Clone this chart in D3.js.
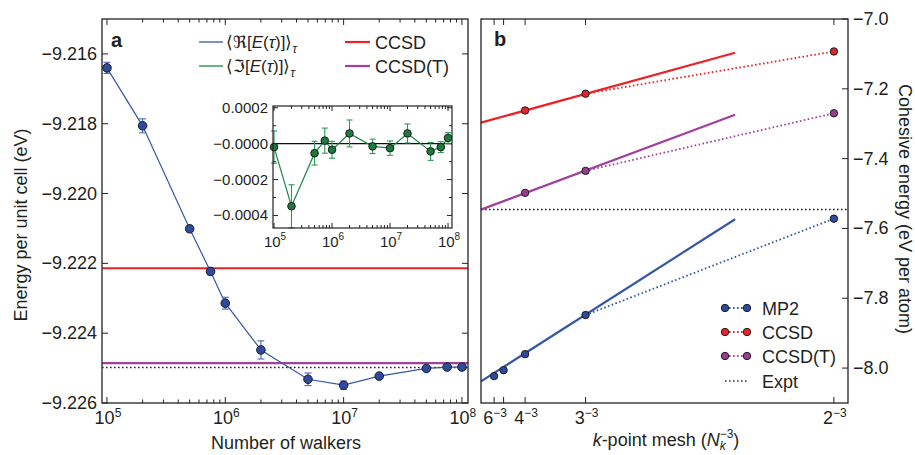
<!DOCTYPE html>
<html>
<head>
<meta charset="utf-8">
<script src="https://cdn.jsdelivr.net/npm/d3@7"></script>
<style>
body { margin: 0; background: #fff; }
svg text { font-family: "Liberation Sans", Arial, sans-serif; fill: #231f20; }
</style>
</head>
<body>
<div id="chart"></div>
<script>
(function () {

// ---- panel a : energy vs number of walkers ----
const walkers  = [1e5, 2e5, 5e5, 7.5e5, 1e6, 2e6, 5e6, 1e7, 2e7, 5e7, 7.5e7, 1e8];
const energyRe = [-9.2164, -9.21806, -9.22101, -9.22223, -9.22314, -9.22448, -9.22532, -9.22549, -9.22523, -9.22501, -9.22497, -9.22497];
const errRe    = [0.00016, 0.0002, 0.00008, 0.0001, 0.00017, 0.00026, 0.00018, 0.00012, 0.00006, 0.00005, 0.00004, 0.00004];
// inset : imaginary part
const energyIm = [-0.000019, -0.000349, -0.000053, 0.000017, -0.000034, 0.000057, -0.000015, -0.000025, 0.000057, -0.000043, -0.000019, 0.000032];
const errIm    = [0.00009, 0.00012, 0.000066, 0.00007, 0.000047, 0.000075, 0.00004, 0.00004, 0.000053, 0.00005, 0.00003, 0.00003];
const refCCSD = -9.22214, refCCSDT = -9.22486, refExpt = -9.22498;

const yTicksA = [-9.216, -9.218, -9.220, -9.222, -9.224, -9.226];
const decades = [5, 6, 7, 8];
const yTicksInset = [0.0002, 0, -0.0002, -0.0004];
const yLabelsInset = ["0.0002", "\u22120.0000", "\u22120.0002", "\u22120.0004"];

// ---- panel b : cohesive energy vs k-point mesh ----
const methods  = ["MP2", "CCSD", "CCSD(T)"];
const meshMP2  = [6, 5, 4, 3, 2];
const eMP2     = [-8.023, -8.006, -7.960, -7.848, -7.572];
const meshCC   = [4, 3, 2];
const eCCSD    = [-7.262, -7.214, -7.093];
const eCCSDT   = [-7.498, -7.435, -7.270];
const fitIntercept = [-8.038, -7.297, -7.546];
const fitSlope     = [5.16, 2.226, 3.02];
const fitEnd = 0.09;
const exptB = -7.546;

const kTicks = [6, 5, 4, 3, 2];
const kTickLabels = ["6", "", "4", "3", "2"];
const yTicksB = [-7.0, -7.2, -7.4, -7.6, -7.8, -8.0];

const blue = "#3556a8", red = "#ec2227", purple = "#a2409c", green = "#1a8a46";
const methodColor = [blue, red, purple];
const methodFill = ["#2d4b9e", "#e3262b", "#993d94"];

const W = 915, H = 455;
const svg = d3.select("#chart").append("svg")
    .attr("width", W).attr("height", H);

function sup(sel, base, s, size) {
  sel.text(null);
  sel.append("tspan").text(base);
  sel.append("tspan").attr("dy", -7).attr("font-size", size).text(s);
}

function dotted(sel) {
  return sel.attr("stroke-dasharray", "1.6,2.4");
}

// ================= PANEL A =================
const xA = d3.scaleLog().domain([9.08e4, 1.125e8]).range([102, 468]);
const yA = d3.scaleLinear().domain([-9.226, -9.215]).range([403, 19]);
const gA = svg.append("g");

// reference lines
[[refCCSD, red], [refCCSDT, purple]].forEach(function (r) {
  gA.append("line")
    .attr("x1", xA.range()[0]).attr("x2", xA.range()[1])
    .attr("y1", yA(r[0])).attr("y2", yA(r[0]))
    .attr("stroke", r[1]).attr("stroke-width", 2.2);
});
gA.append("line")
  .attr("x1", xA.range()[0]).attr("x2", xA.range()[1])
  .attr("y1", yA(refExpt)).attr("y2", yA(refExpt))
  .attr("stroke", "#222").attr("stroke-width", 1.5)
  .call(dotted);

// log ticks, bottom + top, inward
xA.ticks().forEach(function (t) {
  const major = Math.abs(Math.log10(t) - Math.round(Math.log10(t))) < 1e-9;
  const len = major ? 6 : 3.5;
  gA.append("line").attr("x1", xA(t)).attr("x2", xA(t))
    .attr("y1", 403).attr("y2", 403 - len).attr("stroke", "#222").attr("stroke-width", 1);
  gA.append("line").attr("x1", xA(t)).attr("x2", xA(t))
    .attr("y1", 19).attr("y2", 19 + len).attr("stroke", "#222").attr("stroke-width", 1);
});
decades.forEach(function (d) {
  gA.append("text").attr("x", xA(Math.pow(10, d)) + 1).attr("y", 424)
    .attr("text-anchor", "middle").attr("font-size", 18)
    .call(sup, "10", String(d), 12);
});
yTicksA.forEach(function (t) {
  gA.append("line").attr("x1", 102).attr("x2", 108)
    .attr("y1", yA(t)).attr("y2", yA(t)).attr("stroke", "#222");
  gA.append("line").attr("x1", 468).attr("x2", 462)
    .attr("y1", yA(t)).attr("y2", yA(t)).attr("stroke", "#222");
  gA.append("text").attr("x", 97).attr("y", yA(t) + 6)
    .attr("text-anchor", "end").attr("font-size", 18)
    .text(d3.format(".3f")(t).replace("-", "\u2212"));
});

// data : line, error bars, markers
const ptsA = walkers.map((w, i) => ({x: w, y: energyRe[i], e: errRe[i]}));
gA.append("path").datum(ptsA)
  .attr("fill", "none").attr("stroke", blue).attr("stroke-width", 1.2)
  .attr("d", d3.line().x(d => xA(d.x)).y(d => yA(d.y)));
const ebA = gA.selectAll(".eb").data(ptsA).join("g").attr("stroke", "#4d69b5").attr("stroke-width", 1.1);
ebA.append("line").attr("x1", d => xA(d.x)).attr("x2", d => xA(d.x))
  .attr("y1", d => yA(d.y - d.e)).attr("y2", d => yA(d.y + d.e));
ebA.append("line").attr("x1", d => xA(d.x) - 3.5).attr("x2", d => xA(d.x) + 3.5)
  .attr("y1", d => yA(d.y - d.e)).attr("y2", d => yA(d.y - d.e));
ebA.append("line").attr("x1", d => xA(d.x) - 3.5).attr("x2", d => xA(d.x) + 3.5)
  .attr("y1", d => yA(d.y + d.e)).attr("y2", d => yA(d.y + d.e));
gA.selectAll(".ptA").data(ptsA).join("circle")
  .attr("cx", d => xA(d.x)).attr("cy", d => yA(d.y)).attr("r", 4.3)
  .attr("fill", "#2d4b9e").attr("stroke", "#1b1b2e").attr("stroke-width", 1);

// frame
gA.append("rect").attr("x", 102).attr("y", 19).attr("width", 366).attr("height", 384)
  .attr("fill", "none").attr("stroke", "#222").attr("stroke-width", 1.3);

gA.append("text").attr("x", 111).attr("y", 47).attr("font-size", 20).attr("font-weight", "bold").text("a");

// legend a
function mathLabel(sel, op) {
  sel.append("tspan").text("\u27E8" + op + "[");
  sel.append("tspan").attr("font-style", "italic").text("E");
  sel.append("tspan").text("(");
  sel.append("tspan").attr("font-style", "italic").text("\u03C4");
  sel.append("tspan").text(")]\u27E9");
  sel.append("tspan").attr("font-style", "italic").attr("font-size", 12).attr("dy", 5).text("\u03C4");
}
[[blue, "\u211C", 42], [green, "\u2111", 66]].forEach(function (l) {
  gA.append("line").attr("x1", 199).attr("x2", 223).attr("y1", l[2]).attr("y2", l[2])
    .attr("stroke", l[0]).attr("stroke-width", 1.3);
  gA.append("text").attr("x", 226).attr("y", l[2] + 6).attr("font-size", 17)
    .call(mathLabel, l[1]);
});
[[red, "CCSD", 42], [purple, "CCSD(T)", 66]].forEach(function (l) {
  gA.append("line").attr("x1", 345).attr("x2", 370).attr("y1", l[2]).attr("y2", l[2])
    .attr("stroke", l[0]).attr("stroke-width", 2.2);
  gA.append("text").attr("x", 375).attr("y", l[2] + 6.5).attr("font-size", 18).text(l[1]);
});

gA.append("text").attr("x", 286).attr("y", 449).attr("text-anchor", "middle")
  .attr("font-size", 18).text("Number of walkers");
gA.append("text").attr("transform", "translate(27,225) rotate(-90)")
  .attr("text-anchor", "middle").attr("font-size", 18).text("Energy per unit cell (eV)");

// ---- inset ----
const xI = d3.scaleLog().domain([9.6e4, 1.17e8]).range([273, 452]);
const yI = d3.scaleLinear().domain([-0.00047, 0.00021]).range([228, 106]);
const gI = svg.append("g");
gI.append("rect").attr("x", 273).attr("y", 106).attr("width", 179).attr("height", 122)
  .attr("fill", "#fff");
gI.append("line").attr("x1", 273).attr("x2", 452).attr("y1", yI(0)).attr("y2", yI(0))
  .attr("stroke", "#111").attr("stroke-width", 1.3);
xI.ticks().forEach(function (t) {
  const major = Math.abs(Math.log10(t) - Math.round(Math.log10(t))) < 1e-9;
  const len = major ? 5 : 3;
  gI.append("line").attr("x1", xI(t)).attr("x2", xI(t))
    .attr("y1", 228).attr("y2", 228 - len).attr("stroke", "#222");
  gI.append("line").attr("x1", xI(t)).attr("x2", xI(t))
    .attr("y1", 106).attr("y2", 106 + len).attr("stroke", "#222");
});
decades.forEach(function (d) {
  gI.append("text").attr("x", xI(Math.pow(10, d)) + 1).attr("y", 247)
    .attr("text-anchor", "middle").attr("font-size", 15)
    .call(sup, "10", String(d), 10);
});
d3.range(-0.0004, 0.00021, 0.0001).forEach(function (t) {
  const major = Math.abs(Math.round(t / 0.0002) * 0.0002 - t) < 1e-9;
  const len = major ? 5 : 3;
  gI.append("line").attr("x1", 273).attr("x2", 273 + len).attr("y1", yI(t)).attr("y2", yI(t)).attr("stroke", "#222");
  gI.append("line").attr("x1", 452).attr("x2", 452 - len).attr("y1", yI(t)).attr("y2", yI(t)).attr("stroke", "#222");
});
yTicksInset.forEach(function (t, i) {
  gI.append("text").attr("x", 268).attr("y", yI(t) + 5)
    .attr("text-anchor", "end").attr("font-size", 15).text(yLabelsInset[i]);
});
const ptsI = walkers.map((w, i) => ({x: w, y: energyIm[i], e: errIm[i]}));
gI.append("path").datum(ptsI)
  .attr("fill", "none").attr("stroke", green).attr("stroke-width", 1.2)
  .attr("d", d3.line().x(d => xI(d.x)).y(d => yI(d.y)));
const ebI = gI.selectAll(".ebi").data(ptsI).join("g").attr("stroke", "#2a9a55").attr("stroke-width", 1.1);
ebI.append("line").attr("x1", d => xI(d.x)).attr("x2", d => xI(d.x))
  .attr("y1", d => yI(d.y - d.e)).attr("y2", d => yI(d.y + d.e));
ebI.append("line").attr("x1", d => xI(d.x) - 3).attr("x2", d => xI(d.x) + 3)
  .attr("y1", d => yI(d.y - d.e)).attr("y2", d => yI(d.y - d.e));
ebI.append("line").attr("x1", d => xI(d.x) - 3).attr("x2", d => xI(d.x) + 3)
  .attr("y1", d => yI(d.y + d.e)).attr("y2", d => yI(d.y + d.e));
gI.selectAll(".ptI").data(ptsI).join("circle")
  .attr("cx", d => xI(d.x)).attr("cy", d => yI(d.y)).attr("r", 3.8)
  .attr("fill", "#1c7a3f").attr("stroke", "#1b1b1b").attr("stroke-width", 1);
gI.append("rect").attr("x", 273).attr("y", 106).attr("width", 179).attr("height", 122)
  .attr("fill", "none").attr("stroke", "#222").attr("stroke-width", 1.2);

// ================= PANEL B =================
const xB = d3.scaleLinear().domain([0, 0.13]).range([481, 848]);
const yB = d3.scaleLinear().domain([-8.1, -7.0]).range([403, 19]);
const gB = svg.append("g");

gB.append("line").attr("x1", 481).attr("x2", 848)
  .attr("y1", yB(exptB)).attr("y2", yB(exptB))
  .attr("stroke", "#222").attr("stroke-width", 1.5).call(dotted);

const series = [
  meshMP2.map((k, i) => ({x: Math.pow(k, -3), y: eMP2[i]})),
  meshCC.map((k, i) => ({x: Math.pow(k, -3), y: eCCSD[i]})),
  meshCC.map((k, i) => ({x: Math.pow(k, -3), y: eCCSDT[i]}))
];

series.forEach(function (pts, m) {
  // extrapolation fit
  gB.append("line")
    .attr("x1", xB(0)).attr("y1", yB(fitIntercept[m]))
    .attr("x2", xB(fitEnd)).attr("y2", yB(fitIntercept[m] + fitSlope[m] * fitEnd))
    .attr("stroke", methodColor[m]).attr("stroke-width", 2.2);
  // dotted 3^-3 -> 2^-3
  const a = pts[pts.length - 2], b = pts[pts.length - 1];
  gB.append("line")
    .attr("x1", xB(a.x)).attr("y1", yB(a.y)).attr("x2", xB(b.x)).attr("y2", yB(b.y))
    .attr("stroke", methodColor[m]).attr("stroke-width", 1.8).call(dotted);
});
series.forEach(function (pts, m) {
  gB.selectAll(".pt" + m).data(pts).join("circle")
    .attr("cx", d => xB(d.x)).attr("cy", d => yB(d.y)).attr("r", 3.7)
    .attr("fill", methodFill[m]).attr("stroke", "#1b1b1b").attr("stroke-width", 1);
});

kTicks.forEach(function (k, i) {
  const x = xB(Math.pow(k, -3));
  gB.append("line").attr("x1", x).attr("x2", x).attr("y1", 403).attr("y2", 397).attr("stroke", "#222");
  gB.append("line").attr("x1", x).attr("x2", x).attr("y1", 19).attr("y2", 25).attr("stroke", "#222");
  if (kTickLabels[i]) {
    gB.append("text").attr("x", x + 1).attr("y", 424).attr("text-anchor", "middle")
      .attr("font-size", 18).call(sup, kTickLabels[i], "\u22123", 12);
  }
});
yTicksB.forEach(function (t) {
  gB.append("line").attr("x1", 848).attr("x2", 842).attr("y1", yB(t)).attr("y2", yB(t)).attr("stroke", "#222");
  gB.append("text").attr("x", 853).attr("y", yB(t) + 6).attr("font-size", 18)
    .text(d3.format(".1f")(t).replace("-", "\u2212"));
});

gB.append("rect").attr("x", 481).attr("y", 19).attr("width", 367).attr("height", 384)
  .attr("fill", "none").attr("stroke", "#222").attr("stroke-width", 1.3);
gB.append("text").attr("x", 494).attr("y", 46).attr("font-size", 20).attr("font-weight", "bold").text("b");

// legend b
const legY = [308, 332, 356, 381];
methods.forEach(function (name, m) {
  const y = legY[m];
  gB.append("line").attr("x1", 725).attr("x2", 747).attr("y1", y).attr("y2", y)
    .attr("stroke", methodColor[m]).attr("stroke-width", 1.8).call(dotted);
  [725, 747].forEach(function (cx) {
    gB.append("circle").attr("cx", cx).attr("cy", y).attr("r", 3.7)
      .attr("fill", methodFill[m]).attr("stroke", "#1b1b1b").attr("stroke-width", 1);
  });
  gB.append("text").attr("x", 762).attr("y", y + 6.5).attr("font-size", 18).text(name);
});
gB.append("line").attr("x1", 725).attr("x2", 747).attr("y1", legY[3]).attr("y2", legY[3])
  .attr("stroke", "#333").attr("stroke-width", 1.5).call(dotted);
gB.append("text").attr("x", 762).attr("y", legY[3] + 6.5).attr("font-size", 18).text("Expt");

// axis titles b
const tB = gB.append("text").attr("x", 666).attr("y", 446).attr("text-anchor", "middle").attr("font-size", 18);
tB.append("tspan").attr("font-style", "italic").text("k");
tB.append("tspan").text("-point mesh (");
tB.append("tspan").attr("font-style", "italic").text("N");
tB.append("tspan").attr("font-style", "italic").attr("font-size", 12).attr("dy", 4).text("k");
tB.append("tspan").attr("font-size", 12).attr("dx", -6).attr("dy", -12).text("\u22123");
tB.append("tspan").attr("dy", 8).text(")");
gB.append("text").attr("transform", "translate(899,209) rotate(90)")
  .attr("text-anchor", "middle").attr("font-size", 18).text("Cohesive energy (eV per atom)");

})()
</script>
</body>
</html>
